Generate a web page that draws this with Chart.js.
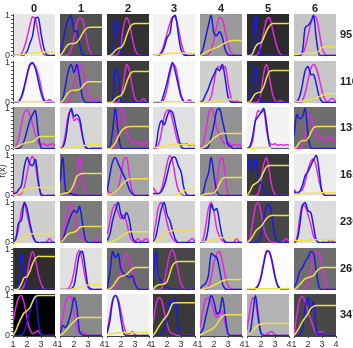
<!DOCTYPE html>
<html>
<head>
<meta charset="utf-8">
<script src="https://cdn.jsdelivr.net/npm/chart.js@4.4.1/dist/chart.umd.min.js"></script>
<style>
  html, body { margin: 0; padding: 0; background: #fff; }
  #grid { position: relative; width: 353px; height: 348px; overflow: hidden; font-family: "Liberation Sans", Arial, sans-serif; }
  #grid canvas { position: absolute; }
  .colLabel { position: absolute; top: 2px; width: 42px; text-align: center; font-weight: bold; font-size: 11px; line-height: 12px; color: #222; }
  .rowLabel { position: absolute; left: 340px; font-weight: bold; font-size: 11px; line-height: 12px; color: #222; white-space: nowrap; }
  .yTitle { position: absolute; left: -13px; top: 166px; width: 30px; text-align: center; font-size: 9px; line-height: 10px; color: #333; transform: rotate(-90deg); }
</style>
</head>
<body>
<div id="grid"></div>
<script>
// axes
const xValues = [1, 1.2, 1.4, 1.6, 1.8, 2, 2.2, 2.4, 2.6, 2.8, 3, 3.2, 3.4, 3.6, 3.8, 4];
const xTicks = [1, 2, 3, 4];
const yTicks = [0, 0.1, 0.2, 0.3, 0.4, 0.5, 0.6, 0.7, 0.8, 0.9, 1];
const colLabels = ["0", "1", "2", "3", "4", "5", "6"];
const rowLabels = ["95", "116", "133", "165", "230", "265", "347"];

// grey level of each panel (0 = black, 255 = white)
const shade95  = [230, 80, 50, 242, 154, 43, 196];
const shade116 = [248, 125, 61, 246, 207, 48, 198];
const shade133 = [160, 214, 107, 224, 147, 242, 110];
const shade165 = [202, 111, 163, 222, 140, 56, 236];
const shade230 = [207, 123, 186, 208, 216, 71, 220];
const shade265 = [46, 224, 108, 71, 163, 253, 110];
const shade347 = [0, 138, 239, 57, 153, 179, 72];

// row 95
const blue95 = [
  [0,0,0,0,0.02,0.1,0.3,0.5,0.92,0.95,0.55,0.2,0.03,0,0,0],
  [0.02,0.3,0.7,0.9,1.0,0.6,0.62,0.3,0.03,0,0,0,0,0,0,0],
  [0,0,0.1,0.9,0.75,0.05,0,0,0,0,0,0,0,0,0,0],
  [0,0,0,0.05,0.2,0.45,0.55,0.95,1.0,0.55,0.15,0.02,0,0,0,0],
  [0,0.15,0.45,0.75,1.0,0.55,0.5,0.6,0.45,0.15,0.02,0,0,0,0,0],
  [0,0,0.1,1.0,0.4,0.02,0,0,0,0,0,0,0,0,0,0],
  [0,0,0,0.1,0.7,0.75,0.85,1.0,0.4,0.02,0,0,0,0,0,0]
];
const pink95 = [
  [0,0,0,0.05,0.2,0.45,0.75,0.97,0.9,0.55,0.2,0.03,0,0,0,0],
  [0,0,0,0.02,0.15,0.45,0.8,0.95,0.9,0.6,0.25,0.05,0,0,0,0],
  [0,0,0,0,0.05,0.3,0.75,0.95,0.8,0.45,0.15,0.03,0,0,0,0],
  [0,0,0.02,0.1,0.3,0.55,0.8,0.97,0.95,0.7,0.35,0.1,0.02,0,0,0],
  [0,0,0,0.02,0.15,0.4,0.75,0.95,0.9,0.6,0.3,0.08,0.01,0,0,0],
  [0,0,0,0,0.05,0.25,0.6,0.9,0.95,0.7,0.4,0.15,0.03,0,0,0],
  [0,0,0,0.03,0.2,0.5,0.8,0.98,0.95,0.6,0.2,0.03,0,0,0,0]
];
const yellow95 = [
  [0,0.01,0.01,0.02,0.03,0.04,0.05,0.06,0.07,0.08,0.08,0.09,0.09,0.09,0.09,0.09],
  [0,0.08,0.2,0.28,0.3,0.3,0.33,0.42,0.55,0.65,0.7,0.71,0.71,0.71,0.71,0.71],
  [0,0,0.05,0.13,0.18,0.2,0.3,0.5,0.68,0.78,0.8,0.8,0.8,0.8,0.8,0.8],
  [0,0.01,0.02,0.03,0.04,0.05,0.05,0.06,0.06,0.06,0.06,0.06,0.06,0.06,0.06,0.06],
  [0,0.04,0.08,0.12,0.15,0.18,0.2,0.24,0.28,0.32,0.35,0.37,0.38,0.38,0.38,0.38],
  [0,0,0.05,0.22,0.3,0.32,0.45,0.62,0.74,0.8,0.8,0.8,0.8,0.8,0.8,0.8],
  [0.02,0.03,0.04,0.05,0.05,0.06,0.06,0.06,0.07,0.12,0.2,0.22,0.22,0.22,0.22,0.22]
];

// row 116
const blue116 = [
  [0,0,0.02,0.15,0.4,0.7,0.95,1.0,0.85,0.55,0.25,0.05,0,0,0,0],
  [0,0.1,0.45,0.8,0.95,0.75,0.95,0.6,0.15,0.01,0,0,0,0,0,0],
  [0,0,0.05,0.85,0.7,0.03,0,0,0,0,0,0,0,0,0,0],
  [0,0,0,0.03,0.25,0.5,0.8,1.0,0.75,0.45,0.15,0.02,0,0,0,0],
  [0,0.05,0.2,0.35,0.55,0.7,0.85,0.8,0.95,0.6,0.15,0.02,0,0,0,0],
  [0,0.02,0.6,0.92,0.25,0.01,0,0,0,0,0,0,0,0,0,0],
  [0,0.02,0.15,0.45,0.8,0.9,0.7,0.7,0.45,0.15,0.02,0,0,0,0,0]
];
const pink116 = [
  [0,0,0.02,0.12,0.35,0.65,0.92,0.98,0.9,0.7,0.4,0.1,0.03,0.08,0.02,0],
  [0,0,0,0.02,0.15,0.45,0.85,0.98,0.85,0.5,0.2,0.1,0.05,0.1,0.03,0],
  [0,0,0,0,0.02,0.15,0.55,0.95,0.8,0.4,0.1,0.03,0.02,0.1,0.02,0],
  [0,0,0,0,0.1,0.35,0.7,0.95,0.9,0.55,0.2,0.04,0.02,0.07,0.02,0],
  [0,0,0,0.02,0.15,0.5,0.85,0.9,0.85,0.9,0.5,0.15,0.02,0.06,0,0],
  [0,0,0,0,0.02,0.25,0.75,0.95,0.65,0.25,0.05,0.02,0.05,0.01,0,0],
  [0,0,0,0.05,0.25,0.55,0.85,0.95,0.85,0.6,0.3,0.08,0.02,0.08,0.1,0.02]
];
const yellow116 = [
  [0.02,0.02,0.02,0.02,0.02,0.02,0.02,0.02,0.02,0.02,0.02,0.02,0.02,0.02,0.02,0.02],
  [0,0.05,0.15,0.25,0.3,0.31,0.31,0.33,0.4,0.48,0.52,0.52,0.52,0.52,0.52,0.52],
  [0,0,0.02,0.1,0.15,0.18,0.3,0.5,0.68,0.77,0.78,0.78,0.78,0.78,0.78,0.78],
  [0.02,0.02,0.02,0.02,0.02,0.02,0.02,0.02,0.02,0.02,0.02,0.02,0.02,0.02,0.02,0.02],
  [0,0,0.01,0.02,0.03,0.04,0.05,0.06,0.07,0.08,0.08,0.08,0.08,0.08,0.08,0.08],
  [0,0.02,0.12,0.22,0.25,0.27,0.4,0.62,0.78,0.8,0.8,0.8,0.8,0.8,0.8,0.8],
  [0.01,0.02,0.03,0.04,0.05,0.06,0.08,0.1,0.12,0.15,0.18,0.21,0.22,0.22,0.22,0.22]
];

// row 133
const blue133 = [
  [0,0,0,0.05,0.2,0.45,0.7,0.85,0.95,0.4,0.02,0,0,0,0,0],
  [0,0.03,0.25,0.75,1.0,0.8,0.85,0.75,0.35,0.05,0,0,0,0,0,0],
  [0,0.05,0.45,1.0,0.4,0.02,0,0,0,0,0,0,0,0,0,0],
  [0,0.05,0.5,0.7,0.6,0.8,0.95,0.9,0.6,0.3,0.05,0,0,0,0,0],
  [0,0,0,0.05,0.3,0.6,0.95,1.0,0.7,0.4,0.1,0.05,0,0,0,0],
  [0,0.05,0.3,0.7,0.8,0.9,1.0,0.6,0.1,0,0,0,0,0,0,0],
  [0.3,0.85,0.75,0.8,1.0,0.35,0.02,0,0,0,0,0,0,0,0,0]
];
const pink133 = [
  [0,0.05,0.25,0.6,0.9,0.97,0.85,0.6,0.35,0.15,0.1,0.12,0.08,0.1,0.12,0.08],
  [0,0.05,0.4,0.85,0.95,0.7,0.75,0.65,0.3,0.05,0,0,0,0,0,0],
  [0,0,0,0.05,0.6,1.0,0.85,0.45,0.25,0.15,0.2,0.12,0.15,0.1,0.15,0.12],
  [0,0,0.1,0.4,0.8,0.95,0.95,0.7,0.4,0.15,0.12,0.1,0.12,0.08,0.1,0.08],
  [0,0.1,0.4,0.85,1.0,0.85,0.5,0.35,0.2,0.12,0.15,0.1,0.1,0.08,0.1,0.05],
  [0,0.02,0.2,0.7,0.95,0.9,0.95,0.45,0.15,0.1,0.12,0.08,0.1,0.08,0.1,0.08],
  [0,0,0,0.05,0.4,0.85,0.85,0.5,0.35,0.25,0.3,0.2,0.25,0.3,0.2,0.25]
];
const yellow133 = [
  [0,0.03,0.07,0.1,0.13,0.15,0.16,0.17,0.22,0.28,0.3,0.3,0.3,0.3,0.3,0.3],
  [0,0.01,0.02,0.02,0.03,0.04,0.05,0.06,0.07,0.08,0.09,0.1,0.1,0.1,0.1,0.1],
  [0,0,0.05,0.15,0.3,0.42,0.5,0.54,0.55,0.55,0.55,0.55,0.55,0.55,0.55,0.55],
  [0.02,0.03,0.04,0.05,0.06,0.07,0.08,0.09,0.1,0.1,0.1,0.1,0.1,0.1,0.1,0.1],
  [0,0.02,0.06,0.12,0.2,0.27,0.31,0.36,0.38,0.38,0.38,0.38,0.38,0.38,0.38,0.38],
  [0,0,0.01,0.01,0.02,0.02,0.02,0.03,0.03,0.03,0.03,0.03,0.03,0.03,0.03,0.03],
  [0,0.05,0.15,0.2,0.2,0.25,0.4,0.52,0.55,0.55,0.55,0.55,0.55,0.55,0.55,0.55]
];

// row 165
const blue165 = [
  [0.02,0.05,0.15,0.25,0.7,0.95,0.8,0.75,0.9,0.4,0.02,0,0,0,0,0],
  [0.35,0.95,0.12,0.07,0.04,0.02,0.01,0,0,0,0,0,0,0,0,0],
  [0.1,0.5,0.85,0.95,0.8,0.65,0.5,0.35,0.15,0.05,0,0,0,0,0,0],
  [0.05,0.05,0.05,0.1,0.25,0.5,0.8,0.95,0.95,0.75,0.6,0.2,0.02,0,0,0],
  [0,0.05,0.35,0.55,0.95,0.5,0.1,0.01,0,0,0,0,0,0,0,0],
  [0.55,0.9,0.6,0.95,0.5,0.3,0.15,0.05,0,0,0,0,0,0,0,0],
  [0.1,0.05,0.1,0.25,0.5,0.6,0.75,0.9,1.0,0.6,0.1,0,0,0,0,0]
];
const pink165 = [
  [0.15,0.05,0.02,0.05,0.2,0.55,0.85,0.98,0.75,0.3,0.05,0,0,0,0,0],
  [0,0,0,0,0,0.05,0.45,0.95,0.5,0.05,0,0,0,0,0,0],
  [0.15,0.08,0.05,0.1,0.2,0.5,0.9,0.95,0.5,0.1,0.02,0,0,0,0,0],
  [0.2,0.1,0.05,0.15,0.45,0.8,1.0,0.85,0.45,0.15,0.05,0,0,0,0,0],
  [0,0,0,0,0,0.05,0.35,0.85,0.95,0.5,0.05,0,0,0,0,0],
  [0,0,0,0,0.05,0.35,0.8,0.95,0.6,0.2,0.03,0,0,0,0,0],
  [0.15,0.08,0.1,0.15,0.35,0.65,0.85,0.92,0.7,0.35,0.1,0.02,0,0,0,0]
];
const yellow165 = [
  [0,0.02,0.05,0.1,0.15,0.19,0.2,0.2,0.2,0.2,0.2,0.2,0.2,0.2,0.2,0.2],
  [0.02,0.05,0.06,0.08,0.15,0.3,0.48,0.53,0.55,0.55,0.55,0.55,0.55,0.55,0.55,0.55],
  [0,0.02,0.05,0.1,0.17,0.25,0.32,0.38,0.41,0.42,0.42,0.42,0.42,0.42,0.42,0.42],
  [0,0,0,0,0,0,0,0,0.01,0.03,0.08,0.12,0.14,0.15,0.15,0.15],
  [0,0.02,0.04,0.05,0.05,0.07,0.15,0.3,0.42,0.45,0.45,0.45,0.45,0.45,0.45,0.45],
  [0,0.1,0.25,0.3,0.35,0.45,0.6,0.72,0.75,0.75,0.75,0.75,0.75,0.75,0.75,0.75],
  [0.03,0.04,0.04,0.05,0.05,0.05,0.05,0.06,0.06,0.06,0.07,0.07,0.07,0.07,0.07,0.07]
];

// row 230
const blue230 = [
  [0,0.1,0.5,0.55,1.0,0.85,0.5,0.2,0.03,0,0,0,0,0,0,0],
  [0,0.05,0.3,0.5,0.7,0.8,0.75,0.9,0.5,0.1,0,0,0,0,0,0],
  [0.05,0.2,0.55,0.8,1.0,0.7,0.6,0.75,0.55,0.15,0.02,0,0,0,0,0],
  [0.02,0.15,0.5,0.85,1.0,0.7,0.55,0.3,0.08,0,0,0,0,0,0,0],
  [0,0,0.05,0.4,0.95,0.8,0.85,0.5,0.15,0.02,0,0,0,0,0,0],
  [0,0,0,0,0.02,0.2,0.6,0.9,0.95,0.6,0.15,0.02,0,0,0,0],
  [0,0.05,0.4,0.9,1.0,0.8,0.75,0.4,0.05,0,0,0,0,0,0,0]
];
const pink230 = [
  [0,0.1,0.35,0.8,0.95,0.7,0.4,0.15,0.03,0,0,0,0.02,0.1,0.02,0],
  [0,0.1,0.5,0.9,0.95,0.7,0.4,0.2,0.1,0.05,0.02,0,0,0.1,0.02,0],
  [0.2,0.5,0.85,0.95,0.75,0.6,0.7,0.5,0.2,0.05,0.02,0.1,0.02,0.05,0.1,0.02],
  [0.1,0.5,0.9,1.0,0.8,0.5,0.25,0.1,0.03,0,0,0,0,0.05,0.1,0.03],
  [0,0.05,0.4,0.85,1.0,0.75,0.35,0.15,0.05,0,0,0,0,0.1,0.02,0],
  [0,0.1,0.5,0.9,1.0,0.75,0.35,0.15,0.05,0,0,0,0,0.03,0.1,0.02],
  [0,0.1,0.6,0.95,0.9,0.7,0.45,0.15,0.05,0,0,0,0,0.08,0.02,0]
];
const yellow230 = [
  [0,0,0.02,0.08,0.13,0.17,0.2,0.22,0.22,0.22,0.22,0.22,0.22,0.22,0.22,0.22],
  [0,0.05,0.15,0.22,0.25,0.26,0.3,0.38,0.4,0.4,0.4,0.4,0.4,0.4,0.4,0.4],
  [0,0,0.03,0.06,0.1,0.15,0.2,0.24,0.27,0.27,0.27,0.27,0.27,0.27,0.27,0.27],
  [0,0.03,0.08,0.14,0.2,0.25,0.28,0.3,0.3,0.3,0.3,0.3,0.3,0.3,0.3,0.3],
  [0.02,0.02,0.03,0.04,0.05,0.07,0.1,0.12,0.12,0.12,0.12,0.12,0.12,0.12,0.12,0.12],
  [0,0.05,0.15,0.28,0.35,0.4,0.5,0.6,0.66,0.68,0.68,0.68,0.68,0.68,0.68,0.68],
  [0.05,0.05,0.05,0.06,0.06,0.06,0.07,0.07,0.07,0.07,0.07,0.07,0.07,0.07,0.07,0.07]
];

// row 265
const blue265 = [
  [0,0,0.15,0.9,0.55,0.05,0,0,0,0,0,0,0,0,0,0],
  [0,0,0,0,0.02,0.1,0.5,0.9,0.95,0.55,0.1,0.02,0,0,0,0],
  [0,0.4,0.95,0.8,0.9,0.5,0.4,0.35,0.3,0.35,0.15,0.02,0,0,0,0],
  [0.1,0.95,0.35,0.2,0.1,0.05,0.02,0,0,0,0,0,0,0,0,0],
  [0.02,0.1,0.15,0.35,0.9,0.85,0.8,0.5,0.15,0.02,0,0,0,0,0,0],
  [0,0,0,0.02,0.1,0.3,0.65,0.95,0.95,0.7,0.35,0.1,0.01,0,0,0],
  [0.05,0.2,0.45,0.55,0.7,0.8,0.95,0.9,0.45,0.05,0,0,0,0,0,0]
];
const pink265 = [
  [0,0,0,0,0.1,0.35,0.75,0.95,0.75,0.4,0.15,0.03,0,0,0,0],
  [0,0,0,0.03,0.15,0.45,0.85,0.98,0.7,0.3,0.05,0,0,0,0,0],
  [0,0,0,0.05,0.2,0.45,0.8,0.9,0.75,0.45,0.2,0.05,0,0,0,0],
  [0,0,0,0.03,0.2,0.55,0.9,1.0,0.8,0.45,0.15,0.03,0,0,0,0],
  [0,0,0,0.05,0.3,0.7,0.9,0.95,0.7,0.35,0.1,0.02,0,0,0,0],
  [0,0,0,0.03,0.12,0.35,0.7,0.97,0.92,0.65,0.3,0.08,0.01,0,0,0],
  [0,0,0,0,0.05,0.2,0.5,0.85,0.95,0.9,0.55,0.2,0.03,0,0,0]
];
const yellow265 = [
  [0,0,0.03,0.15,0.3,0.32,0.45,0.65,0.78,0.83,0.83,0.83,0.83,0.83,0.83,0.83],
  [0,0,0,0,0.01,0.02,0.03,0.05,0.08,0.1,0.11,0.12,0.12,0.12,0.12,0.12],
  [0,0.02,0.08,0.18,0.28,0.33,0.35,0.38,0.45,0.52,0.55,0.55,0.55,0.55,0.55,0.55],
  [0,0.08,0.12,0.13,0.14,0.2,0.4,0.6,0.68,0.7,0.7,0.7,0.7,0.7,0.7,0.7],
  [0,0.01,0.03,0.05,0.08,0.11,0.14,0.18,0.22,0.24,0.25,0.25,0.25,0.25,0.25,0.25],
  [0.02,0.02,0.02,0.02,0.02,0.02,0.02,0.02,0.02,0.02,0.02,0.02,0.02,0.02,0.02,0.02],
  [0,0.05,0.12,0.2,0.27,0.3,0.32,0.35,0.45,0.52,0.55,0.55,0.55,0.55,0.55,0.55]
];

// row 347
const blue347 = [
  [0,0,0,0.02,0.1,0.35,0.6,0.85,1.0,0.4,0.02,0,0,0,0,0],
  [0.05,0.25,0.2,0.35,0.6,0.95,0.7,0.1,0.02,0,0,0,0,0,0,0],
  [0.05,0.35,0.85,1.0,0.85,0.4,0.05,0,0,0,0,0,0,0,0,0],
  [0,0,0,0.02,0.15,0.45,0.9,0.7,0.95,0.2,0,0,0,0,0,0],
  [0.05,0.15,0.45,0.75,1.0,0.85,0.55,0.6,0.95,0.5,0.05,0,0,0,0,0],
  [0,0.05,0.5,1.0,0.5,0.05,0,0,0,0,0,0,0,0,0,0],
  [0,0,0.02,0.15,0.7,0.95,0.6,0.85,0.1,0.02,0.05,0,0,0,0,0]
];
const pink347 = [
  [0.35,0.7,0.95,1.0,0.8,0.45,0.15,0.05,0.08,0.12,0.02,0,0,0,0,0],
  [0.2,0.45,0.85,0.98,0.95,0.6,0.2,0.05,0.1,0.05,0,0,0,0,0,0],
  [0.1,0.5,0.9,1.0,0.9,0.6,0.25,0.05,0.05,0.1,0.02,0,0,0,0,0],
  [0.3,0.75,0.95,0.9,0.6,0.3,0.1,0.05,0.02,0,0,0,0,0,0,0],
  [0.2,0.6,0.9,0.95,0.85,0.6,0.45,0.55,0.6,0.3,0.05,0,0,0,0,0],
  [0.15,0.6,0.95,0.85,0.4,0.08,0.02,0.03,0.08,0.1,0.02,0,0,0,0,0],
  [0.05,0.5,0.9,0.98,0.85,0.6,0.4,0.2,0.05,0.08,0.1,0,0,0,0,0]
];
const yellow347 = [
  [0,0.12,0.3,0.45,0.57,0.62,0.7,0.85,0.97,1.0,1.0,1.0,1.0,1.0,1.0,1.0],
  [0,0.05,0.12,0.2,0.28,0.35,0.42,0.45,0.45,0.45,0.45,0.45,0.45,0.45,0.45,0.45],
  [0.02,0.04,0.05,0.06,0.07,0.08,0.08,0.08,0.08,0.08,0.08,0.08,0.08,0.08,0.08,0.08],
  [0,0.1,0.22,0.32,0.42,0.5,0.65,0.8,0.82,0.82,0.82,0.82,0.82,0.82,0.82,0.82],
  [0.02,0.05,0.08,0.12,0.15,0.2,0.28,0.4,0.48,0.52,0.52,0.52,0.52,0.52,0.52,0.52],
  [0,0.05,0.12,0.2,0.26,0.29,0.3,0.3,0.3,0.3,0.3,0.3,0.3,0.3,0.3,0.3],
  [0,0.1,0.22,0.35,0.45,0.55,0.68,0.73,0.75,0.75,0.75,0.75,0.75,0.75,0.75,0.75]
];

const blueRows = [blue95, blue116, blue133, blue165, blue230, blue265, blue347];
const pinkRows = [pink95, pink116, pink133, pink165, pink230, pink265, pink347];
const yellowRows = [yellow95, yellow116, yellow133, yellow165, yellow230, yellow265, yellow347];
const shadeRows = [shade95, shade116, shade133, shade165, shade230, shade265, shade347];

// layout of the grid (pixels)
const SIZE = 42, PAD = 8, Y_AXIS = 13, X_AXIS = 11;
const panelLeft = c => Math.round(13 + c * 46.83);
const panelTop = r => Math.round(14 + r * 46.7);

const tickFont = { family: "'Liberation Sans', Arial, sans-serif", size: 9 };

// fills the plot area with the panel grey
const panelBackground = {
  id: "panelBackground",
  beforeDraw(chart, args, opts) {
    const { ctx, chartArea: a } = chart;
    ctx.save();
    ctx.fillStyle = opts.color;
    ctx.fillRect(a.left, a.top, a.right - a.left, a.bottom - a.top);
    ctx.restore();
  }
};

function series(values) {
  return xValues.map((x, i) => ({ x: x, y: values[i] }));
}

function drawPanel(grid, r, c) {
  const showY = c === 0;
  const showX = r === rowLabels.length - 1;
  const canvas = document.createElement("canvas");
  const w = SIZE + 2 * PAD + (showY ? Y_AXIS : 0);
  const h = SIZE + 2 * PAD + (showX ? X_AXIS : 0);
  canvas.width = w;
  canvas.height = h;
  canvas.style.width = w + "px";
  canvas.style.height = h + "px";
  canvas.style.left = (panelLeft(c) - PAD - (showY ? Y_AXIS : 0)) + "px";
  canvas.style.top = (panelTop(r) - PAD) + "px";
  grid.appendChild(canvas);

  const g = shadeRows[r][c];
  const line = (data, color) => ({
    data: series(data),
    borderColor: color,
    borderWidth: 1.5,
    pointRadius: 0,
    tension: 0.35,
    fill: false
  });

  new Chart(canvas.getContext("2d"), {
    type: "line",
    data: {
      datasets: [
        line(yellowRows[r][c], "rgb(238,226,70)"),
        line(blueRows[r][c], "rgb(28,28,225)"),
        line(pinkRows[r][c], "rgb(226,40,226)")
      ]
    },
    options: {
      responsive: false,
      animation: false,
      devicePixelRatio: 1,
      layout: { padding: PAD },
      plugins: {
        legend: { display: false },
        tooltip: { enabled: false },
        panelBackground: { color: `rgb(${g},${g},${g})` }
      },
      scales: {
        x: {
          type: "linear",
          min: 1,
          max: 4,
          display: showX,
          afterBuildTicks: s => { s.ticks = xTicks.map(v => ({ value: v })); },
          afterFit: s => { if (showX) s.height = X_AXIS; },
          ticks: { font: tickFont, color: "#333", padding: 1, maxRotation: 0, autoSkip: false },
          grid: { drawOnChartArea: false, tickLength: 2, color: "#555" },
          border: { display: true, color: "#444" }
        },
        y: {
          type: "linear",
          min: -0.01,
          max: 1.04,
          display: showY,
          afterBuildTicks: s => { s.ticks = yTicks.map(v => ({ value: v })); },
          afterFit: s => { if (showY) s.width = Y_AXIS; },
          ticks: {
            font: tickFont,
            color: "#333",
            padding: 1,
            autoSkip: false,
            callback: v => (v === 0 || v === 1) ? String(v) : ""
          },
          grid: { drawOnChartArea: false, tickLength: 2, color: "#555" },
          border: { display: true, color: "#444" }
        }
      }
    },
    plugins: [panelBackground]
  });
}

const grid = document.getElementById("grid");

rowLabels.forEach((label, r) => {
  colLabels.forEach((_, c) => drawPanel(grid, r, c));
  const div = document.createElement("div");
  div.className = "rowLabel";
  div.style.top = (panelTop(r) + 14) + "px";
  div.textContent = label;
  grid.appendChild(div);
});

colLabels.forEach((label, c) => {
  const div = document.createElement("div");
  div.className = "colLabel";
  div.style.left = panelLeft(c) + "px";
  div.textContent = label;
  grid.appendChild(div);
});

const yTitle = document.createElement("div");
yTitle.className = "yTitle";
yTitle.textContent = "f(x)";
grid.appendChild(yTitle);
</script>
</body>
</html>
